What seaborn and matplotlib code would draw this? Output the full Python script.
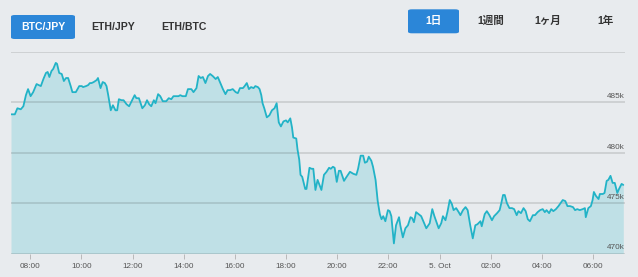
import matplotlib
matplotlib.use("Agg")
import matplotlib.pyplot as plt
import matplotlib.dates as mdates
from matplotlib.patches import FancyBboxPatch
import matplotlib.transforms as mtransforms
import numpy as np
import pandas as pd
import seaborn as sns

# ---------------- data ----------------
start_time = "2017-10-04 07:15"
minutes = [0, 9, 15, 23, 29, 35, 40, 46, 52, 60, 70, 76, 82, 86, 90, 95, 99, 105, 108, 113,
           119, 124, 129, 134, 140, 144, 152, 160, 166, 169, 176, 181, 185, 189, 194, 201, 204, 210, 215, 220,
           224, 228, 234, 239, 245, 249, 253, 259, 264, 271, 277, 283, 290, 294, 300, 308, 314, 319, 324, 329,
           335, 339, 345, 350, 356, 364, 370, 376, 381, 388, 393, 397, 402, 410, 415, 423, 428, 435, 440, 445,
           450, 456, 462, 467, 473, 480, 485, 491, 497, 503, 508, 514, 520, 527, 532, 537, 544, 548, 553, 558,
           563, 569, 573, 579, 583, 587, 590, 594, 600, 606, 612, 618, 623, 628, 633, 639, 645, 649, 655, 659,
           662, 669, 672, 676, 679, 683, 690, 693, 700, 705, 709, 714, 719, 728, 734, 740, 746, 750, 755, 759,
           764, 769, 773, 781, 787, 795, 803, 810, 814, 820, 826, 830, 835, 839, 845, 849, 855, 860, 865, 869,
           873, 878, 884, 888, 892, 898, 903, 910, 913, 919, 925, 931, 937, 941, 945, 950, 956, 962, 968, 974,
           982, 988, 993, 998, 1003, 1009, 1013, 1019, 1024, 1029, 1034, 1038, 1044, 1050, 1054, 1060, 1066, 1071, 1077, 1083,
           1089, 1094, 1101, 1104, 1111, 1116, 1122, 1128, 1133, 1140, 1146, 1150, 1154, 1158, 1163, 1169, 1175, 1180, 1186, 1190,
           1196, 1202, 1207, 1212, 1217, 1224, 1229, 1235, 1241, 1247, 1252, 1256, 1262, 1267, 1272, 1278, 1284, 1289, 1294, 1300,
           1305, 1311, 1318, 1323, 1328, 1334, 1341, 1346, 1348, 1354, 1360, 1364, 1367, 1372, 1378, 1381, 1388, 1392, 1397, 1401,
           1406, 1411, 1416, 1422, 1426, 1432, 1436]
price_k = [483.8, 483.8, 484.4, 484.3, 484.6, 485.7, 486.3, 485.6, 486.0, 486.8, 486.6, 487.3, 487.9, 488.0, 487.5, 488.1, 488.3, 488.9, 488.8, 487.9,
           487.8, 487.1, 487.4, 487.4, 486.6, 486.0, 486.0, 486.6, 486.6, 486.5, 486.6, 486.7, 486.9, 486.9, 487.0, 487.2, 487.4, 486.4, 487.0, 486.9,
           486.6, 485.7, 484.2, 484.7, 484.2, 484.2, 485.3, 485.2, 485.2, 484.8, 484.6, 485.1, 485.7, 485.4, 485.4, 484.4, 484.7, 485.2, 484.8, 484.6,
           485.2, 484.9, 485.8, 485.6, 485.1, 485.1, 485.4, 485.3, 485.6, 485.6, 485.6, 485.7, 485.6, 485.6, 486.3, 486.3, 486.0, 486.4, 487.6, 487.4,
           487.5, 486.9, 487.6, 487.8, 487.6, 487.3, 487.5, 486.9, 486.3, 485.8, 486.2, 486.2, 486.3, 486.0, 485.9, 486.4, 486.4, 486.6, 486.9, 486.3,
           486.5, 486.4, 486.6, 486.5, 486.3, 485.7, 484.9, 484.4, 483.5, 483.7, 484.2, 484.4, 484.9, 483.0, 482.6, 483.1, 483.2, 483.0, 483.4, 482.5,
           481.5, 481.4, 480.3, 479.3, 477.8, 477.6, 476.4, 476.4, 478.5, 478.4, 478.4, 476.3, 477.3, 476.3, 477.8, 478.1, 478.5, 478.4, 478.6, 478.5,
           477.1, 478.2, 478.2, 477.2, 477.6, 478.1, 477.9, 477.8, 478.4, 479.7, 479.7, 479.0, 479.1, 479.6, 479.2, 478.6, 477.3, 475.2, 473.9, 473.4,
           473.7, 473.2, 474.3, 474.2, 473.7, 471.0, 472.8, 473.6, 472.8, 471.6, 472.5, 472.8, 473.6, 473.5, 473.1, 474.1, 473.9, 473.7, 473.1, 472.5,
           473.0, 474.4, 473.7, 473.1, 472.5, 473.0, 473.7, 473.3, 474.2, 475.3, 474.9, 474.3, 474.5, 474.1, 473.8, 474.3, 474.6, 474.3, 472.8, 471.5,
           472.8, 472.9, 473.2, 472.7, 473.9, 474.2, 473.8, 473.3, 473.7, 474.0, 474.3, 475.0, 475.8, 475.8, 475.0, 474.5, 474.5, 474.4, 473.8, 474.2,
           474.0, 474.5, 474.2, 473.4, 473.2, 473.8, 473.8, 474.1, 474.3, 474.4, 474.1, 474.3, 474.0, 474.4, 474.2, 474.4, 474.7, 475.0, 475.3, 475.2,
           474.7, 474.7, 474.6, 474.3, 474.4, 474.3, 474.4, 474.5, 473.6, 474.5, 474.7, 475.3, 476.1, 475.7, 475.4, 475.9, 475.9, 476.0, 477.2, 477.3,
           477.7, 477.0, 477.0, 476.0, 476.4, 476.9, 476.8]

y_ticks_k = [470, 475, 480, 485, 490]
y_labels = ["470k", "475k", "480k", "485k"]
pair_buttons = ["BTC/JPY", "ETH/JPY", "ETH/BTC"]
range_buttons = ["1日", "1週間", "1ヶ月", "1年"]

# ---------------- build frame ----------------
df = pd.DataFrame({
    "time": pd.Timestamp(start_time) + pd.to_timedelta(minutes, unit="m"),
    "price": np.array(price_k) * 1000,
})

BG = "#e8ebee"
FILL = "#bfe0e6"
LINE = "#22b3c7"
BLUE = "#2b86d8"
TXT = "#333333"

sns.set_theme(style="white")
plt.rcParams["font.family"] = ["Liberation Sans", "Noto Sans CJK JP", "DejaVu Sans"]

W, H = 638, 277
fig = plt.figure(figsize=(W / 100, H / 100), dpi=100, facecolor=BG)
ax = fig.add_axes([11 / W, 1 - 253.5 / H, (625 - 11) / W, (253.5 - 51.8) / H])
ax.set_facecolor(BG)

ymin, ymax = y_ticks_k[0] * 1000, y_ticks_k[-1] * 1000
ax.fill_between(df["time"], df["price"], ymin, color=FILL, lw=0, zorder=1)
for v in y_ticks_k:
    ax.axhline(v * 1000, color="black", alpha=0.14, lw=1.1, zorder=2)
sns.lineplot(data=df, x="time", y="price", ax=ax, color=LINE, lw=1.3, zorder=3)

t0 = pd.Timestamp(start_time)
ax.set_xlim(t0, t0 + pd.Timedelta(hours=24))
ax.set_ylim(ymin, ymax)

# y labels inside the plot, right aligned above grid lines
trans = mtransforms.blended_transform_factory(ax.transAxes, ax.transData)
offset = mtransforms.offset_copy(trans, fig=fig, x=0, y=1.5, units="points")
for v, lab in zip(y_ticks_k, y_labels):
    ax.text(1.0, v * 1000, lab, transform=offset, ha="right", va="bottom",
            fontsize=5.9, color="#555555")
ax.set_yticks([])
ax.set_ylabel("")
ax.set_xlabel("")

# x ticks every two hours
ticks = pd.date_range("2017-10-04 08:00", "2017-10-05 06:00", freq="2h")
ax.set_xticks(ticks)
ax.set_xticklabels(["5. Oct" if t.hour == 0 else t.strftime("%H:%M") for t in ticks],
                   fontsize=5.9, color="#555555")
ax.tick_params(axis="x", length=3.5, width=0.6, color="#b0b0b0", pad=3, bottom=True)
for s in ax.spines.values():
    s.set_visible(False)

# ---------------- buttons ----------------
def button(cx, cy, w, h, label, active):
    if active:
        box = FancyBboxPatch(((cx - w / 2) / W, 1 - (cy + h / 2) / H), w / W, h / H,
                             boxstyle="round,pad=0,rounding_size=0.006",
                             transform=fig.transFigure, facecolor=BLUE, edgecolor="none")
        fig.patches.append(box)
    fig.text(cx / W, 1 - cy / H, label, ha="center", va="center",
             fontsize=7.6, fontweight="bold", color="white" if active else TXT)

left_centers = [43, 113, 184]
for i, (cx, lab) in enumerate(zip(left_centers, pair_buttons)):
    button(cx, 27, 64, 24, lab, i == 0)

right_centers = [433.5, 490.5, 548, 606]
for i, (cx, lab) in enumerate(zip(right_centers, range_buttons)):
    button(cx, 21.3, 51, 24, lab, i == 0)

fig.savefig("out.png", dpi=100, facecolor=BG)
